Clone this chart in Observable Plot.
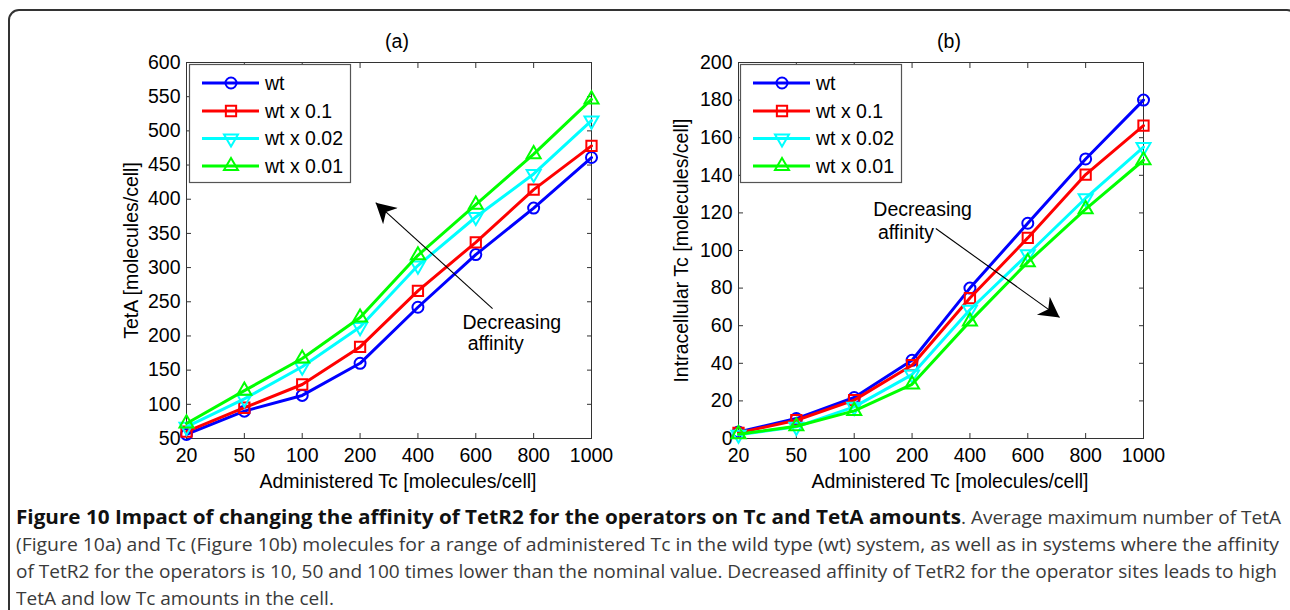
<!DOCTYPE html>
<html>
<head>
<meta charset="utf-8">
<script src="https://cdn.jsdelivr.net/npm/d3@7"></script>
<script src="https://cdn.jsdelivr.net/npm/@observablehq/plot@0.6"></script>
<style>
  html, body { margin: 0; padding: 0; background: #fff; width: 1290px; height: 610px; overflow: hidden; }
  #frame { position: absolute; left: 8px; top: 9px; width: 1290px; height: 700px; border: 2px solid #333; border-radius: 11px; box-sizing: border-box; }
  .panel { position: absolute; top: 20px; }
  .legend { position: absolute; top: 64px; }
  #caption { position: absolute; left: 16px; top: 504px; font-family: "Open Sans", sans-serif; font-size: 19px; line-height: 27px; color: #3a3a3a; }
  #caption .ln { white-space: nowrap; transform-origin: 0 0; width: max-content; }
  #caption b { color: #111; font-weight: 700; display: inline-block; transform-origin: 0 0; }
</style>
</head>
<body>
<div id="frame"></div>
<div id="pa" class="panel" style="left:100px"></div>
<div id="pb" class="panel" style="left:652px"></div>
<div id="la" class="legend" style="left:189px"></div>
<div id="lb" class="legend" style="left:740px"></div>
<div id="caption">
  <div class="ln" id="cap1"><b id="capb">Figure 10 Impact of changing the affinity of TetR2 for the operators on Tc and TetA amounts</b>. Average maximum number of TetA</div>
  <div class="ln" data-w="1263">(Figure 10a) and Tc (Figure 10b) molecules for a range of administered Tc in the wild type (wt) system, as well as in systems where the affinity</div>
  <div class="ln" data-w="1261">of TetR2 for the operators is 10, 50 and 100 times lower than the nominal value. Decreased affinity of TetR2 for the operator sites leads to high</div>
  <div class="ln">TetA and low Tc amounts in the cell.</div>
</div>
<script>
// ---- data ----
const xLabels = ["20", "50", "100", "200", "400", "600", "800", "1000"];
const seriesNames = ["wt", "wt x 0.1", "wt x 0.02", "wt x 0.01"];
const seriesColors = ["#0000ff", "#ff0000", "#00ffff", "#00ff00"];

// Panel (a): TetA [molecules/cell]
const tetA_wt   = [56, 90, 113, 160, 242, 319, 387, 461];
const tetA_x01  = [60, 95, 129, 184, 266, 337, 414, 478];
const tetA_x002 = [67, 108, 155, 213, 303, 374, 437, 515];
const tetA_x001 = [72, 120, 167, 227, 318, 392, 466, 546];
const tetATicks = [50, 100, 150, 200, 250, 300, 350, 400, 450, 500, 550, 600];

// Panel (b): Intracellular Tc [molecules/cell]
const tc_wt   = [3.5, 10.6, 21.8, 41.6, 80, 114.5, 148.7, 180];
const tc_x01  = [3, 9.7, 20.4, 39, 74.7, 106.7, 140.4, 166.4];
const tc_x002 = [2, 6.2, 16.8, 34, 68.5, 98, 127.8, 155];
const tc_x001 = [2.3, 6.5, 14.7, 28.8, 62.3, 93.8, 122, 148];
const tcTicks = [0, 20, 40, 60, 80, 100, 120, 140, 160, 180, 200];

// annotations (data coordinates: x = category index, y = value)
const annTextA = [{x: 4.77, y: 220, t: "Decreasing"}, {x: 4.86, y: 189, t: "affinity"}];
const annArrowA = [{x1: 5.29, y1: 240, x2: 3.27, y2: 395}];
const annTextB = [{x: 2.33, y: 121.8, t: "Decreasing"}, {x: 2.41, y: 109.6, t: "affinity"}];
const annArrowB = [{x1: 3.41, y1: 111.7, x2: 5.55, y2: 64.4}];

const symbols = ["circle", "square", "triangle", "triangle"];
const rotations = [0, 0, 180, 0];
const radii = [5.5, 5.8, 5.2, 5.2];

const FONT = "'Liberation Sans', Arial, Helvetica, sans-serif";
const FS = 19.5;

// filled, slightly concave arrow head (like MATLAB annotation arrows)
function filledHead(color, context) {
  const m = d3.select(context.document.createElementNS("http://www.w3.org/2000/svg", "marker"))
    .attr("viewBox", "-10 -6 10 12")
    .attr("markerWidth", 20).attr("markerHeight", 24)
    .attr("markerUnits", "userSpaceOnUse")
    .attr("refX", 0).attr("refY", 0)
    .attr("orient", "auto");
  m.append("path").attr("d", "M0,0 L-10,-5.5 L-7,0 L-10,5.5 Z").attr("fill", "#000").attr("stroke", "none");
  return m.node();
}

function panel(el, {values, yDomain, yTicks, title, ylabel, ylabelDx, annText, annArrow}) {
  const idx = d3.range(xLabels.length);
  const seriesMarks = values.flatMap((vals, s) => {
    const rows = vals.map((v, i) => ({i, v}));
    return [
      Plot.line(rows, {x: "i", y: "v", stroke: seriesColors[s], strokeWidth: 3}),
      Plot.dot(rows, {x: "i", y: "v", symbol: symbols[s], r: radii[s], rotate: rotations[s],
        stroke: seriesColors[s], strokeWidth: 2, fill: "none"})
    ];
  });
  const chart = Plot.plot({
    width: 540, height: 480,
    marginLeft: 86, marginRight: 49, marginTop: 42, marginBottom: 62,
    style: {fontFamily: FONT, fontSize: FS + "px", color: "#000", background: "transparent", overflow: "visible"},
    x: {type: "linear", domain: [0, xLabels.length - 1]},
    y: {domain: yDomain},
    marks: [
      Plot.frame({stroke: "#333", strokeWidth: 1}),
      Plot.axisX({ticks: idx, tickFormat: i => xLabels[i], tickSize: 0, tickPadding: 10, label: null, fontSize: FS, fill: "#000"}),
      Plot.axisX({anchor: "bottom", ticks: idx, tickSize: -5, fill: "none", label: null, stroke: "#333"}),
      Plot.axisX({anchor: "top", ticks: idx, tickSize: -5, fill: "none", label: null, stroke: "#333"}),
      Plot.axisY({ticks: yTicks, tickSize: 0, tickPadding: 6, label: null, fontSize: FS, fill: "#000"}),
      Plot.axisY({anchor: "left", ticks: yTicks, tickSize: -5, fill: "none", label: null, stroke: "#333"}),
      Plot.axisY({anchor: "right", ticks: yTicks, tickSize: -5, fill: "none", label: null, stroke: "#333"}),
      ...seriesMarks,
      Plot.link(annArrow, {x1: "x1", y1: "y1", x2: "x2", y2: "y2", stroke: "#000", strokeWidth: 1.1, markerEnd: filledHead}),
      Plot.text(annText, {x: "x", y: "y", text: "t", textAnchor: "start", fontSize: FS, fill: "#000"}),
      Plot.text([title], {frameAnchor: "top", lineAnchor: "middle", textAnchor: "middle", dy: -21, dx: 8, fontSize: FS, fill: "#000"}),
      Plot.text(["Administered Tc [molecules/cell]"], {frameAnchor: "bottom", lineAnchor: "middle", textAnchor: "middle", dy: 43, dx: 9, fontSize: FS, fill: "#000"}),
      Plot.text([ylabel], {frameAnchor: "left", textAnchor: "middle", lineAnchor: "middle", rotate: -90, dx: ylabelDx, fontSize: FS, fill: "#000"})
    ]
  });
  el.appendChild(chart);
}

function legend(el) {
  const W = 162, H = 119;
  const svg = d3.select(el).append("svg").attr("width", W).attr("height", H)
    .style("overflow", "visible");
  svg.append("rect").attr("x", 0.5).attr("y", 0.5).attr("width", W - 1).attr("height", H - 1)
    .attr("fill", "#fff").attr("stroke", "#555").attr("stroke-width", 1.2);
  const rowY = [19, 47, 74.5, 102];
  seriesNames.forEach((name, s) => {
    const g = svg.append("g").attr("transform", `translate(0,${rowY[s]})`);
    g.append("line").attr("x1", 13).attr("x2", 70).attr("stroke", seriesColors[s]).attr("stroke-width", 3);
    const symType = {circle: d3.symbolCircle, square: d3.symbolSquare, triangle: d3.symbolTriangle}[symbols[s]];
    g.append("path").attr("d", d3.symbol(symType, Math.PI * radii[s] * radii[s])())
      .attr("transform", `translate(42,0) rotate(${rotations[s]})`)
      .attr("fill", "none").attr("stroke", seriesColors[s]).attr("stroke-width", 2);
    g.append("text").attr("x", 76).attr("dy", "0.35em").text(name)
      .attr("font-family", FONT).attr("font-size", 19.5).attr("fill", "#000");
  });
}

panel(document.getElementById("pa"), {
  values: [tetA_wt, tetA_x01, tetA_x002, tetA_x001],
  yDomain: [50, 600], yTicks: tetATicks, title: "(a)",
  ylabel: "TetA [molecules/cell]", ylabelDx: -55,
  annText: annTextA, annArrow: annArrowA
});
panel(document.getElementById("pb"), {
  values: [tc_wt, tc_x01, tc_x002, tc_x001],
  yDomain: [0, 200], yTicks: tcTicks, title: "(b)",
  ylabel: "Intracellular Tc [molecules/cell]", ylabelDx: -56.5,
  annText: annTextB, annArrow: annArrowB
});
legend(document.getElementById("la"));
legend(document.getElementById("lb"));

// fit caption lines to the reference line widths
const lines = Array.from(document.querySelectorAll("#caption .ln"));
let lastScale = 1;
lines.slice(1).forEach(ln => {
  const target = +ln.dataset.w;
  const w = ln.getBoundingClientRect().width;
  const s = target ? target / w : lastScale;
  lastScale = s;
  ln.style.transform = `scaleX(${s})`;
});
// line 1: condensed bold run, regular text at the body scale, whole line ~1265px
const s0 = lastScale;
const cap1 = document.getElementById("cap1");
const bold = document.getElementById("capb");
const wb = bold.getBoundingClientRect().width;
const wr = cap1.getBoundingClientRect().width - wb;
const k = (1265 / s0 - wr) / wb;
bold.style.transform = `scaleX(${k})`;
bold.style.marginRight = (wb * k - wb) + "px";
cap1.style.transform = `scaleX(${s0})`;
</script>
</body>
</html>
